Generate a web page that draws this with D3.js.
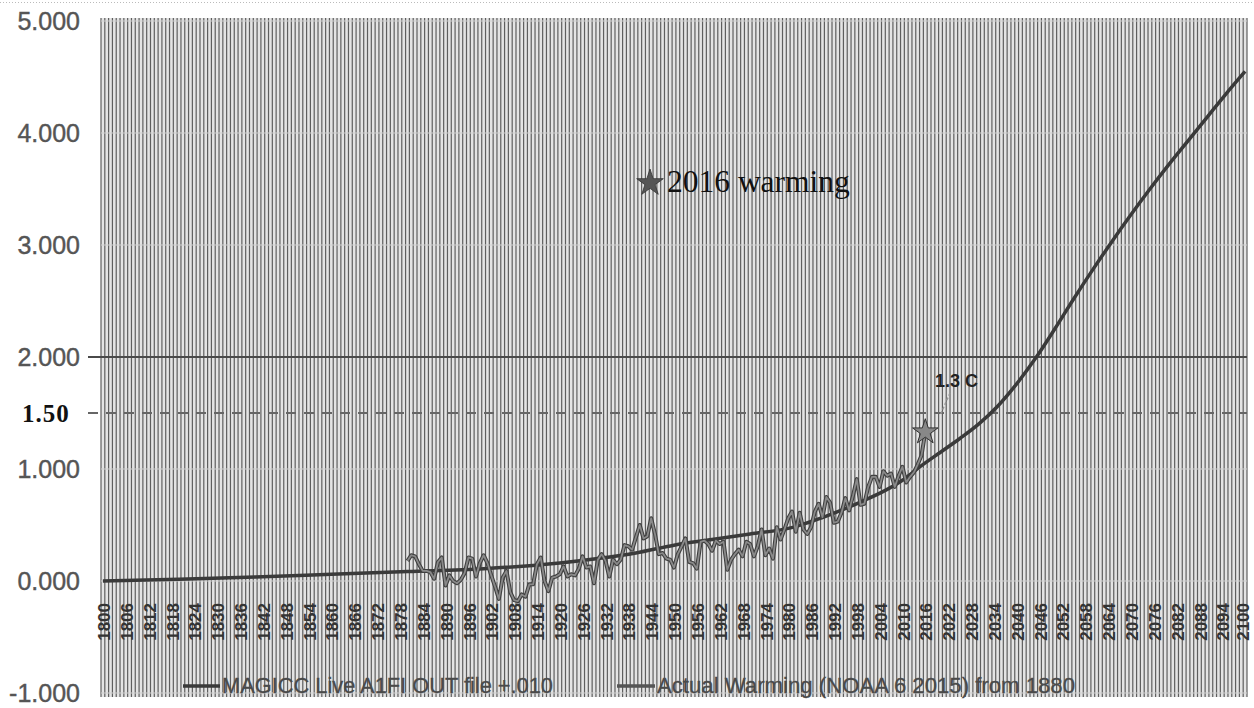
<!DOCTYPE html>
<html>
<head>
<meta charset="utf-8">
<script src="https://cdn.jsdelivr.net/npm/d3@7"></script>
<style>
  html, body { margin: 0; padding: 0; background: #fff; }
  svg { display: block; }
</style>
</head>
<body>
<svg id="chart" width="1254" height="708"></svg>
<script>
// ---------------- DATA ----------------
const categoryYears = d3.range(1800, 2101);            // category axis 1800..2100
const xTickLabels = d3.range(1800, 2101, 6);           // 1800, 1806, ... 2100
const yTickValues = [-1, 0, 1, 2, 3, 4, 5];

const magiccYears  = [1800,1820,1840,1860,1880,1900,1920,1930,1940,1950,1960,1970,1980,1990,2000,2005,2010,2015,2020,2025,2030,2035,2040,2045,2050,2055,2060,2065,2070,2075,2080,2085,2090,2095,2100];
const magiccValues = [0.00,0.015,0.035,0.06,0.085,0.11,0.16,0.20,0.25,0.32,0.37,0.42,0.47,0.58,0.72,0.80,0.90,1.03,1.15,1.27,1.40,1.56,1.76,1.99,2.25,2.52,2.78,3.03,3.27,3.50,3.72,3.93,4.14,4.35,4.55];

const actualYears = d3.range(1880, 2017);
const actualValues = [
  0.18,0.23,0.22,0.15,0.09,0.09,0.08,0.02,0.17,0.21,   // 1880-1889
 -0.04,0.05,0.00,-0.02,0.01,0.07,0.21,0.20,0.04,0.16,  // 1890-1899
  0.23,0.16,0.05,-0.05,-0.16,0.03,0.09,-0.10,-0.17,-0.18, // 1900-1909
 -0.12,-0.14,-0.03,-0.03,0.15,0.21,0.00,-0.09,0.03,0.04, // 1910-1919
  0.06,0.13,0.04,0.06,0.05,0.11,0.22,0.12,0.13,-0.02,  // 1920-1929
  0.19,0.24,0.18,0.04,0.19,0.15,0.19,0.32,0.31,0.28,   // 1930-1939
  0.39,0.50,0.38,0.40,0.56,0.42,0.24,0.25,0.20,0.19,   // 1940-1949
  0.12,0.24,0.31,0.38,0.17,0.16,0.11,0.35,0.36,0.33,   // 1950-1959
  0.27,0.36,0.33,0.35,0.10,0.19,0.24,0.28,0.22,0.35,   // 1960-1969
  0.33,0.22,0.31,0.46,0.23,0.29,0.20,0.48,0.37,0.46,   // 1970-1979
  0.56,0.62,0.44,0.61,0.46,0.42,0.48,0.62,0.69,0.57,   // 1980-1989
  0.75,0.70,0.52,0.53,0.61,0.74,0.63,0.76,0.91,0.68,   // 1990-1999
  0.69,0.84,0.93,0.93,0.84,0.98,0.94,0.96,0.84,0.94,   // 2000-2009
  1.02,0.88,0.93,0.97,1.04,1.12,1.33                   // 2010-2016
];

const refLines = [ {value: 2.0, dashed: false}, {value: 1.5, dashed: true} ];
const seriesNames = ["MAGICC Live A1FI OUT file +.010", "Actual Warming (NOAA 6 2015) from 1880"];
const starLabel = "2016 warming";
const starValueLabel = "1.3 C";
const dashedLabel = "1.50";

// ---------------- LAYOUT ----------------
const svg = d3.select("#chart");
const W = 1254, H = 708;
const plotLeft = 101, plotRight = 1247, plotTop = 18, plotBottom = 697;

const x = d3.scaleBand().domain(categoryYears).range([plotLeft, plotRight]).padding(0);
const xc = yr => x(yr) + x.bandwidth() / 2;
const y = d3.scaleLinear().domain([-1, 5]).range([693, 21]);

const sans = "'Liberation Sans', Arial, sans-serif";
const serif = "'Liberation Serif', 'Times New Roman', serif";

svg.append("rect").attr("width", W).attr("height", H).attr("fill", "#fff");

// top dotted border
svg.append("line").attr("x1", 0).attr("x2", W).attr("y1", 2.5).attr("y2", 2.5)
  .attr("stroke", "#bbb").attr("stroke-dasharray", "1,2");

// plot background
svg.append("rect").attr("x", plotLeft).attr("y", plotTop)
  .attr("width", plotRight - plotLeft).attr("height", plotBottom - plotTop)
  .attr("fill", "#e4e4e4");

// vertical gridlines (one per category)
const vBounds = categoryYears.map(d => x(d)).concat([plotRight]);
svg.append("g").selectAll("line").data(vBounds).join("line")
  .attr("x1", d => d).attr("x2", d => d)
  .attr("y1", plotTop).attr("y2", plotBottom)
  .attr("stroke", "#5e5e5e").attr("stroke-width", 1.2);

// horizontal gridlines
svg.append("g").selectAll("line").data(yTickValues).join("line")
  .attr("x1", plotLeft).attr("x2", plotRight)
  .attr("y1", d => y(d)).attr("y2", d => y(d))
  .attr("stroke", "#d0d0d0").attr("stroke-width", 1);

// Y axis labels
const yAxis = svg.append("g").attr("transform", `translate(${80},0)`)
  .call(d3.axisLeft(y).tickValues(yTickValues).tickSize(0).tickPadding(0).tickFormat(d => d.toFixed(3)));
yAxis.select(".domain").remove();
yAxis.selectAll("text").attr("font-family", sans).attr("font-size", 25).attr("fill", "#555")
  .attr("stroke", "#555").attr("stroke-width", 0.4);

// X axis labels (rotated)
const xAxis = svg.append("g").attr("transform", `translate(1,603)`)
  .call(d3.axisBottom(x).tickValues(xTickLabels).tickSize(0));
xAxis.select(".domain").remove();
xAxis.selectAll("text")
  .attr("x", 0).attr("y", d => d === 2100 ? -3 : 0).attr("dy", "0.36em")
  .attr("transform", "rotate(-90)")
  .style("text-anchor", "end")
  .attr("font-family", sans).attr("font-size", 17).attr("font-weight", "bold")
  .attr("fill", "#333");

// reference lines
svg.append("g").selectAll("line").data(refLines).join("line")
  .attr("x1", 88).attr("x2", plotRight)
  .attr("y1", d => y(d.value)).attr("y2", d => y(d.value))
  .attr("stroke", d => d.dashed ? "#666" : "#4a4a4a")
  .attr("stroke-width", 2)
  .attr("stroke-dasharray", d => d.dashed ? "10,8" : null);

svg.append("text").attr("x", 22).attr("y", y(1.5)).attr("dy", "0.35em")
  .attr("font-family", serif).attr("font-weight", "bold").attr("font-size", 25)
  .attr("fill", "#111").attr("letter-spacing", 1)
  .text(dashedLabel);

// MAGICC line
const magicc = magiccYears.map((yr, i) => ({yr, v: magiccValues[i]}));
svg.append("path").datum(magicc)
  .attr("d", d3.line().x(d => xc(d.yr)).y(d => y(d.v)).curve(d3.curveMonotoneX))
  .attr("fill", "none").attr("stroke", "#3a3a3a").attr("stroke-width", 3.5);

// Actual warming line
const actual = actualYears.map((yr, i) => ({yr, v: actualValues[i]}));
const actualLine = d3.line().x(d => xc(d.yr)).y(d => y(d.v));
svg.append("path").datum(actual)
  .attr("d", actualLine)
  .attr("fill", "none").attr("stroke", "#404040").attr("stroke-width", 4)
  .attr("stroke-linejoin", "round");
svg.append("path").datum(actual)
  .attr("d", actualLine)
  .attr("fill", "none").attr("stroke", "#8a8a8a").attr("stroke-width", 1.8)
  .attr("stroke-linejoin", "round");

// 2016 star marker
const last = actual[actual.length - 1];
svg.append("path").attr("d", d3.symbol().type(d3.symbolStar).size(200)())
  .attr("transform", `translate(${xc(last.yr)},${y(last.v)})`)
  .attr("fill", "#888").attr("stroke", "#333").attr("stroke-width", 1);

// 1.3 C label + leader
svg.append("line")
  .attr("x1", 950).attr("y1", 393).attr("x2", xc(last.yr) + 15).attr("y2", y(last.v) - 17)
  .attr("stroke", "#999").attr("stroke-width", 1.5).attr("stroke-dasharray", "3,2");
svg.append("text").attr("x", 935).attr("y", 387)
  .attr("font-family", sans).attr("font-weight", "bold").attr("font-size", 18)
  .attr("fill", "#222").text(starValueLabel);

// "2016 warming" annotation
svg.append("path").attr("d", d3.symbol().type(d3.symbolStar).size(220)())
  .attr("transform", "translate(650,183)")
  .attr("fill", "#555").attr("stroke", "#333").attr("stroke-width", 0.8);
svg.append("text").attr("x", 667).attr("y", 192)
  .attr("font-family", serif).attr("font-size", 31.5).attr("fill", "#111")
  .text(starLabel);

// Legend
const legendItems = [
  {name: seriesNames[0], x0: 183, x1: 220, color: "#3a3a3a", tx: 222, tl: 331},
  {name: seriesNames[1], x0: 617, x1: 655, color: "#555", tx: 657, tl: 418}
];
const lg = svg.append("g");
lg.selectAll("line").data(legendItems).join("line")
  .attr("x1", d => d.x0).attr("x2", d => d.x1).attr("y1", 686).attr("y2", 686)
  .attr("stroke", d => d.color).attr("stroke-width", 3.5);
lg.selectAll("text").data(legendItems).join("text")
  .attr("x", d => d.tx).attr("y", 693)
  .attr("font-family", sans).attr("font-size", 22).attr("fill", "#4a4a4a")
  .attr("stroke", "#4a4a4a").attr("stroke-width", 0.3)
  .attr("textLength", d => d.tl).attr("lengthAdjust", "spacingAndGlyphs")
  .text(d => d.name);
</script>
</body>
</html>
